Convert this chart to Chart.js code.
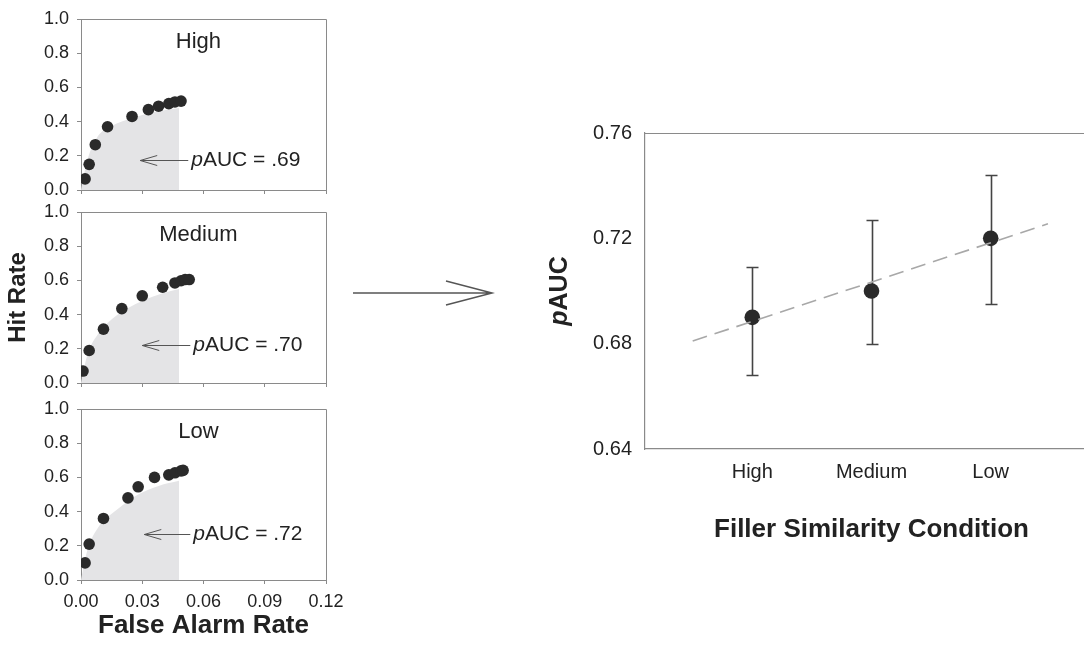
<!DOCTYPE html>
<html>
<head>
<meta charset="utf-8">
<script src="https://cdn.jsdelivr.net/npm/chart.js@4.4.0/dist/chart.umd.min.js"></script>
<style>
  html, body { margin: 0; padding: 0; background: #fff; width: 1084px; height: 646px; overflow: hidden; }
  .box { position: absolute; }
</style>
</head>
<body>
<div class="box" style="left:0;top:0;width:340px;height:200px"><canvas id="rocHigh"></canvas></div>
<div class="box" style="left:0;top:200px;width:340px;height:193px"><canvas id="rocMedium"></canvas></div>
<div class="box" style="left:0;top:393px;width:360px;height:253px"><canvas id="rocLow"></canvas></div>
<div class="box" style="left:340px;top:268px;width:170px;height:50px"><canvas id="bigArrow" width="170" height="50"></canvas></div>
<div class="box" style="left:520px;top:100px;width:600px;height:460px"><canvas id="pauc"></canvas></div>
<script>
// ROC points (false alarm rate, hit rate) for each filler similarity condition
const faHigh = [0.002, 0.004, 0.007, 0.013, 0.025, 0.033, 0.038, 0.043, 0.046, 0.049];
const hrHigh = [0.065, 0.15, 0.265, 0.37, 0.43, 0.47, 0.49, 0.505, 0.515, 0.52];
const faMedium = [0.001, 0.004, 0.011, 0.020, 0.030, 0.040, 0.046, 0.049, 0.051, 0.053];
const hrMedium = [0.07, 0.19, 0.315, 0.435, 0.51, 0.56, 0.585, 0.598, 0.605, 0.605];
const faLow = [0.002, 0.004, 0.011, 0.023, 0.028, 0.036, 0.043, 0.046, 0.049, 0.050];
const hrLow = [0.10, 0.21, 0.36, 0.48, 0.545, 0.60, 0.615, 0.627, 0.638, 0.641];

// shaded partial area under the fitted curve (up to FA = .048)
const areaFaHigh = [0, 0.003, 0.008, 0.015, 0.025, 0.035, 0.048];
const areaHrHigh = [0, 0.17, 0.31, 0.375, 0.42, 0.455, 0.48];
const areaFaMedium = [0, 0.003, 0.008, 0.018, 0.030, 0.040, 0.048];
const areaHrMedium = [0, 0.16, 0.28, 0.40, 0.48, 0.525, 0.55];
const areaFaLow = [0, 0.003, 0.008, 0.018, 0.028, 0.038, 0.048];
const areaHrLow = [0, 0.17, 0.30, 0.415, 0.50, 0.55, 0.58];

const panelNames = ['High', 'Medium', 'Low'];
const pAucLabels = ['.69', '.70', '.72'];

// right panel: pAUC by condition with error bars and trend line
const conditions = ['High', 'Medium', 'Low'];
const pAucValues = [0.690, 0.700, 0.720];
const errLow = [0.668, 0.680, 0.695];
const errHigh = [0.709, 0.727, 0.744];
const trendX = [0.5, 3.48];
const trendY = [0.681, 0.7255];

const FONT = "'Liberation Sans', Arial, Helvetica, sans-serif";
const AXIS = '#8a8a8a';
const INK = '#222';
const DOT = '#2a2a2a';

Chart.defaults.font.family = FONT;
Chart.defaults.color = INK;
Chart.defaults.animation = false;

function toPts(xs, ys) {
  return xs.map((x, i) => ({ x: x, y: ys[i] }));
}

// annotation position per panel, in data units
const annot = [
  { tipX: 0.029, y: 0.175, textX: 0.054, titleX: 0.0575, titleY: 0.865 },
  { tipX: 0.030, y: 0.22,  textX: 0.055, titleX: 0.0575, titleY: 0.865 },
  { tipX: 0.031, y: 0.267, textX: 0.055, titleX: 0.0575, titleY: 0.865 }
];

function drawPText(ctx, x, y, rest, size, weight) {
  ctx.textBaseline = 'middle';
  ctx.textAlign = 'left';
  ctx.font = 'italic ' + weight + ' ' + size + 'px ' + FONT;
  ctx.fillText('p', x, y);
  const w = ctx.measureText('p').width;
  ctx.font = weight + ' ' + size + 'px ' + FONT;
  ctx.fillText(rest, x + w, y);
}

function rocPanel(id, idx, fa, hr, areaFa, areaHr, bottom) {
  const a = annot[idx];
  const panelPlugin = {
    id: 'panelDeco' + idx,
    afterDraw(chart) {
      const { ctx, chartArea, scales } = chart;
      ctx.save();
      // top and right frame
      ctx.strokeStyle = AXIS;
      ctx.lineWidth = 1;
      ctx.beginPath();
      ctx.moveTo(chartArea.left, chartArea.top + 0.5);
      ctx.lineTo(chartArea.right + 0.5, chartArea.top + 0.5);
      ctx.lineTo(chartArea.right + 0.5, chartArea.bottom);
      ctx.stroke();
      // panel title
      ctx.fillStyle = INK;
      ctx.font = '22px ' + FONT;
      ctx.textAlign = 'center';
      ctx.textBaseline = 'middle';
      ctx.fillText(panelNames[idx], scales.x.getPixelForValue(a.titleX), scales.y.getPixelForValue(a.titleY));
      // arrow to the shaded area
      const y = Math.round(scales.y.getPixelForValue(a.y)) + 0.5;
      const tip = scales.x.getPixelForValue(a.tipX);
      const tx = scales.x.getPixelForValue(a.textX);
      ctx.strokeStyle = '#555';
      ctx.lineWidth = 1;
      ctx.beginPath();
      ctx.moveTo(tx - 3, y);
      ctx.lineTo(tip, y);
      ctx.moveTo(tip + 17, y - 5);
      ctx.lineTo(tip, y);
      ctx.lineTo(tip + 17, y + 5);
      ctx.stroke();
      drawPText(ctx, tx, y, 'AUC = ' + pAucLabels[idx], 21, 'normal');
      ctx.restore();
    }
  };

  const xScale = {
    type: 'linear', min: 0, max: 0.12,
    border: { display: true, color: AXIS, width: 1 },
    grid: { display: true, drawOnChartArea: false, drawTicks: true, tickLength: 4, color: AXIS },
    ticks: {
      display: bottom, stepSize: 0.03, padding: 7, font: { size: 18 }, color: INK,
      callback: v => v.toFixed(2)
    },
    title: { display: bottom, text: 'False Alarm Rate', font: { size: 26, weight: 'bold' }, color: INK, padding: { top: 0, bottom: 5 } },
    afterFit: s => {
      s.height = bottom ? 66 : 10;
      s.paddingLeft = 0;
      s.paddingRight = 0;
    }
  };
  const yScale = {
    min: 0, max: 1,
    border: { display: true, color: AXIS, width: 1 },
    grid: { display: true, drawOnChartArea: false, drawTicks: true, tickLength: 4, color: AXIS },
    ticks: { stepSize: 0.2, padding: 8, font: { size: 18 }, color: INK, callback: v => v.toFixed(1) },
    title: { display: idx === 1, text: 'Hit Rate', font: { size: 24, weight: 'bold' }, color: INK, padding: { top: 4, bottom: 0 } },
    afterFit: s => {
      s.width = 81;
      s.paddingTop = 0;
      s.paddingBottom = 0;
    }
  };

  const topPad = [19, 12, 16][idx];

  return new Chart(document.getElementById(id), {
    type: 'scatter',
    data: {
      datasets: [
        {
          data: toPts(fa, hr), order: 0,
          backgroundColor: DOT, borderWidth: 0, pointRadius: 5.8, pointHoverRadius: 5.8
        },
        {
          type: 'line', data: toPts(areaFa, areaHr), order: 1,
          fill: 'origin', backgroundColor: '#e4e4e6', borderWidth: 0, borderColor: 'rgba(0,0,0,0)',
          pointRadius: 0, cubicInterpolationMode: 'monotone'
        }
      ]
    },
    options: {
      responsive: true,
      maintainAspectRatio: false,
      layout: { padding: { top: topPad, right: bottom ? 34 : 14, left: 0, bottom: 0 } },
      plugins: { legend: { display: false }, tooltip: { enabled: false } },
      scales: { x: xScale, y: yScale }
    },
    plugins: [panelPlugin]
  });
}

rocPanel('rocHigh', 0, faHigh, hrHigh, areaFaHigh, areaHrHigh, false);
rocPanel('rocMedium', 1, faMedium, hrMedium, areaFaMedium, areaHrMedium, false);
rocPanel('rocLow', 2, faLow, hrLow, areaFaLow, areaHrLow, true);

// big arrow between the two figures
(function () {
  const ctx = document.getElementById('bigArrow').getContext('2d');
  ctx.strokeStyle = '#555';
  ctx.lineWidth = 1.5;
  ctx.beginPath();
  ctx.moveTo(13, 25);
  ctx.lineTo(152, 25);
  ctx.moveTo(106, 13);
  ctx.lineTo(152, 25);
  ctx.lineTo(106, 37);
  ctx.stroke();
})();

const errorBars = {
  id: 'errorBars',
  beforeDatasetsDraw(chart) {
    const { ctx, scales } = chart;
    ctx.save();
    ctx.strokeStyle = '#444';
    ctx.lineWidth = 1.6;
    pAucValues.forEach((v, i) => {
      const x = Math.round(scales.x.getPixelForValue(i + 1)) + 0.5;
      const y1 = Math.round(scales.y.getPixelForValue(errHigh[i])) + 0.5;
      const y2 = Math.round(scales.y.getPixelForValue(errLow[i])) + 0.5;
      ctx.beginPath();
      ctx.moveTo(x, y1); ctx.lineTo(x, y2);
      ctx.moveTo(x - 6, y1); ctx.lineTo(x + 6, y1);
      ctx.moveTo(x - 6, y2); ctx.lineTo(x + 6, y2);
      ctx.stroke();
    });
    ctx.restore();
  },
  afterDraw(chart) {
    const { ctx, chartArea } = chart;
    ctx.save();
    ctx.strokeStyle = AXIS;
    ctx.lineWidth = 1.2;
    ctx.beginPath();
    ctx.moveTo(chartArea.left, chartArea.top + 0.5);
    ctx.lineTo(chartArea.right + 30, chartArea.top + 0.5);
    ctx.stroke();
    // y-axis title with italic p
    ctx.fillStyle = INK;
    ctx.translate(40, (chartArea.top + chartArea.bottom) / 2);
    ctx.rotate(-Math.PI / 2);
    ctx.font = 'italic bold 25px ' + FONT;
    const wp = ctx.measureText('p').width;
    ctx.font = 'bold 25px ' + FONT;
    const wr = ctx.measureText('AUC').width;
    drawPText(ctx, -(wp + wr) / 2, 0, 'AUC', 25, 'bold');
    ctx.restore();
  }
};

new Chart(document.getElementById('pauc'), {
  type: 'scatter',
  data: {
    datasets: [
      {
        type: 'line', data: toPts(trendX, trendY), order: 0,
        borderColor: '#a8a8a8', borderWidth: 1.6, borderDash: [15, 8],
        pointRadius: 0, fill: false
      },
      {
        data: pAucValues.map((v, i) => ({ x: i + 1, y: v })), order: 1,
        backgroundColor: DOT, borderWidth: 0, pointRadius: 7.8, pointHoverRadius: 7.8
      }
    ]
  },
  options: {
    responsive: true,
    maintainAspectRatio: false,
    layout: { padding: { top: 33, right: 22, left: 0, bottom: 0 } },
    plugins: { legend: { display: false }, tooltip: { enabled: false } },
    scales: {
      x: {
        type: 'linear', min: 0.1, max: 3.9,
        border: { display: true, color: AXIS, width: 1.2 },
        grid: { display: false, drawTicks: false },
        afterBuildTicks: s => { s.ticks = conditions.map((c, i) => ({ value: i + 1 })); },
        ticks: { padding: 11, font: { size: 20 }, color: INK, callback: v => conditions[v - 1] },
        title: { display: true, text: 'Filler Similarity Condition', font: { size: 26, weight: 'bold' }, color: INK, padding: { top: 0, bottom: 15 } },
        afterFit: s => { s.height = 111; }
      },
      y: {
        min: 0.64, max: 0.76,
        border: { display: true, color: AXIS, width: 1.2 },
        grid: { display: false, drawTicks: false },
        ticks: { stepSize: 0.04, padding: 13, font: { size: 20 }, color: INK, callback: v => v.toFixed(2) },
        afterFit: s => { s.width = 125; }
      }
    }
  },
  plugins: [errorBars]
});
</script>
</body>
</html>
